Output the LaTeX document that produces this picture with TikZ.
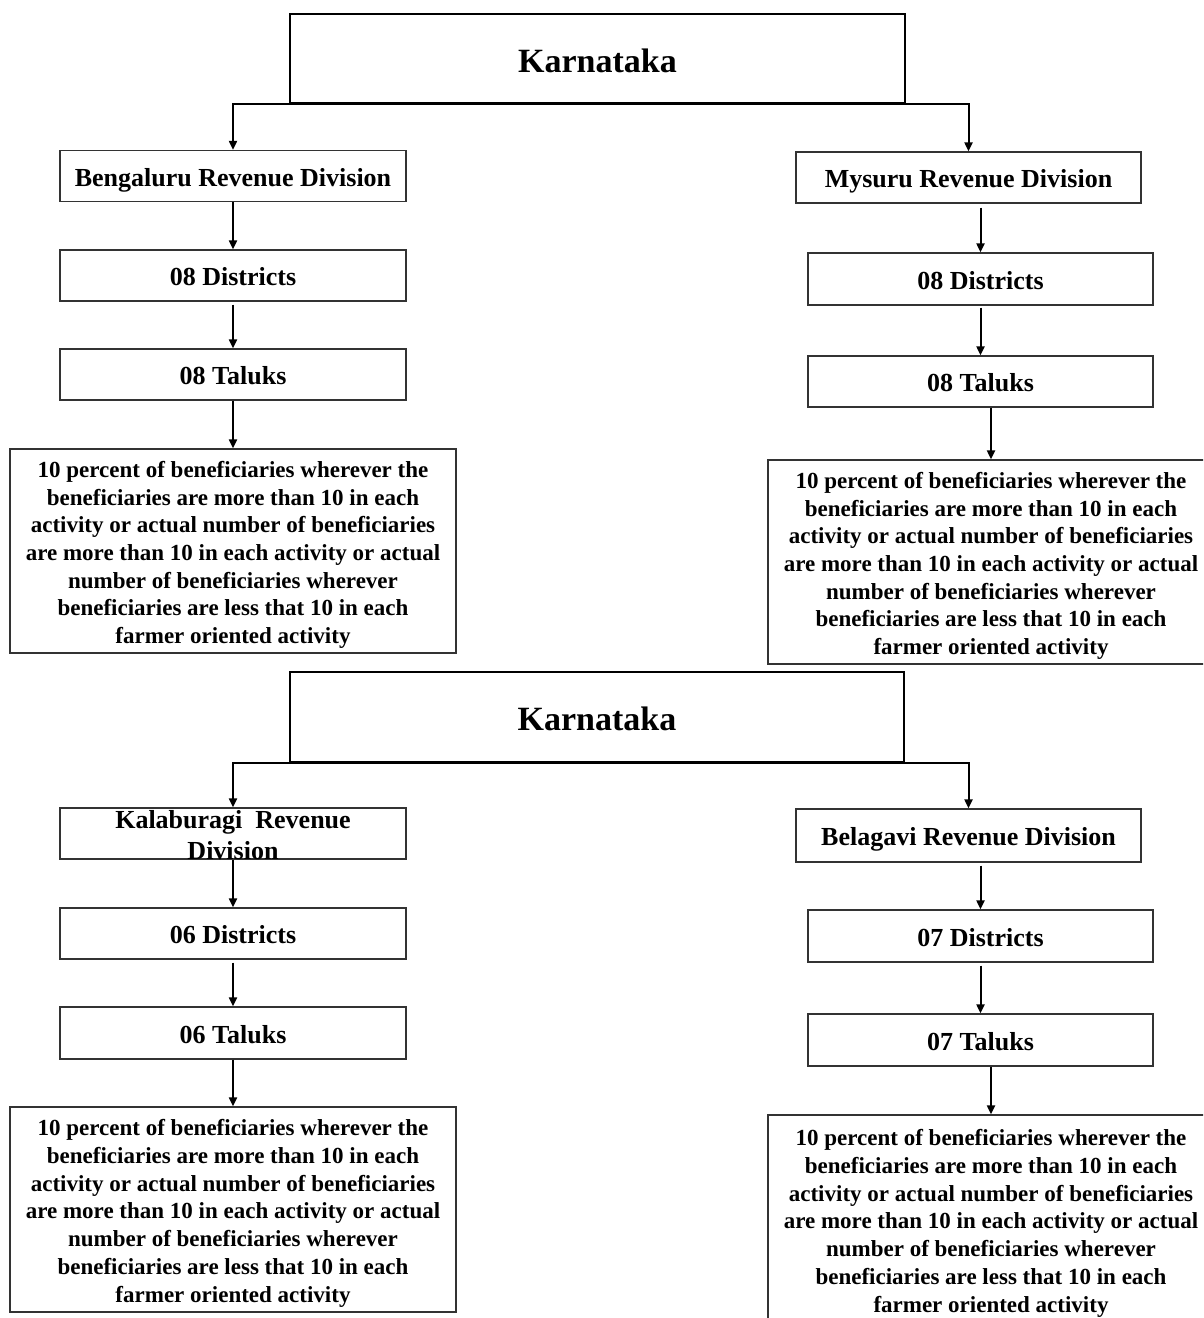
\documentclass[tikz,border=0pt]{standalone}
\usepackage{fontspec}
\setmainfont{Liberation Serif}
\usetikzlibrary{arrows.meta}
\begin{document}
\begin{tikzpicture}[x=1pt,y=-1pt,
  boxframe/.style={draw=black!80, line width=1.3pt, inner sep=0pt},
  divbox/.style={boxframe, minimum width=346pt, minimum height=51pt,
     text height=20pt, text depth=0pt,
     font=\fontsize{26}{31}\selectfont\bfseries},
  topbox/.style={boxframe, draw=black, minimum width=615pt, minimum height=89pt,
     text height=27pt, text depth=0pt,
     font=\fontsize{34}{40}\selectfont\bfseries},
  txtbox/.style={boxframe, minimum width=446pt, minimum height=204pt, align=center,
     text height=185pt, text depth=0pt,
     font=\fontsize{23}{27.7}\selectfont\bfseries},
  arr/.style={draw=black, line width=2pt, -{Triangle[length=9pt,width=8pt]}}
]
\useasboundingbox (0,0) rectangle (1203,1318);
\clip (0,0) rectangle (1203,1318);
\fill[white] (0,0) rectangle (1203,1318);

% ---------- upper chart ----------
\node[topbox] (k1) at (597.5,58.5) {Karnataka};
\node[divbox] (beng) at (233,176) {Bengaluru Revenue Division};
\node[divbox] (bdist) at (233,275.5) {08 Districts};
\node[divbox] (btal) at (233,374.5) {08 Taluks};
\node[txtbox] (btext) at (233,551) {10 percent of beneficiaries wherever the\\beneficiaries are more than 10 in each\\activity or actual number of beneficiaries\\are more than 10 in each activity or actual\\number of beneficiaries wherever\\beneficiaries are less that 10 in each\\farmer oriented activity};

\node[divbox, minimum width=345pt] (mys) at (968.5,177.5) {Mysuru Revenue Division};
\node[divbox, minimum width=345pt, minimum height=52pt] (mdist) at (980.5,279) {08 Districts};
\node[divbox, minimum width=345pt] (mtal) at (980.5,381.5) {08 Taluks};
\node[txtbox] (mtext) at (991,562) {10 percent of beneficiaries wherever the\\beneficiaries are more than 10 in each\\activity or actual number of beneficiaries\\are more than 10 in each activity or actual\\number of beneficiaries wherever\\beneficiaries are less that 10 in each\\farmer oriented activity};

\draw[arr] (k1.south) -| (beng.north);
\draw[arr] (k1.south) -| (mys.north);
\draw[arr] (beng.south) -- (bdist.north);
\draw[arr, shorten <=3pt] (bdist.south) -- (btal.north);
\draw[arr] (btal.south) -- (btext.north);
\draw[arr, shorten <=4pt] (mys.south -| mdist.north) -- (mdist.north);
\draw[arr, shorten <=2pt] (mdist.south) -- (mtal.north);
\draw[arr] (mtal.south -| mtext.north) -- (mtext.north);

% ---------- lower chart ----------
\node[topbox, minimum width=614pt, minimum height=90pt] (k2) at (597,717) {Karnataka};
\node[divbox] (kal) at (233,833.5) {};
\node[anchor=north, inner sep=0pt, align=center, font=\fontsize{26}{31}\selectfont\bfseries] (kalt) at (233,810.5) {Kalaburagi\ \ Revenue\\Division};
\node[divbox] (kdist) at (233,933.5) {06 Districts};
\node[divbox, minimum height=52pt] (ktal) at (233,1033) {06 Taluks};
\node[txtbox, minimum height=205pt] (ktext) at (233,1209.5) {10 percent of beneficiaries wherever the\\beneficiaries are more than 10 in each\\activity or actual number of beneficiaries\\are more than 10 in each activity or actual\\number of beneficiaries wherever\\beneficiaries are less that 10 in each\\farmer oriented activity};

\node[divbox, minimum width=345pt, minimum height=53pt] (bel) at (968.5,835.5) {Belagavi Revenue Division};
\node[divbox, minimum width=345pt, minimum height=52pt] (bldist) at (980.5,936) {07 Districts};
\node[divbox, minimum width=345pt, minimum height=52pt] (bltal) at (980.5,1040) {07 Taluks};
\node[txtbox, text height=190pt] (bltext) at (991,1217) {10 percent of beneficiaries wherever the\\beneficiaries are more than 10 in each\\activity or actual number of beneficiaries\\are more than 10 in each activity or actual\\number of beneficiaries wherever\\beneficiaries are less that 10 in each\\farmer oriented activity};

\draw[arr] (k2.south) -| (kal.north);
\draw[arr] (k2.south) -| (bel.north);
\draw[arr] (kal.south) -- (kdist.north);
\draw[arr, shorten <=3pt] (kdist.south) -- (ktal.north);
\draw[arr] (ktal.south) -- (ktext.north);
\draw[arr, shorten <=3pt] (bel.south -| bldist.north) -- (bldist.north);
\draw[arr, shorten <=3pt] (bldist.south) -- (bltal.north);
\draw[arr] (bltal.south -| bltext.north) -- (bltext.north);
\end{tikzpicture}
\end{document}
